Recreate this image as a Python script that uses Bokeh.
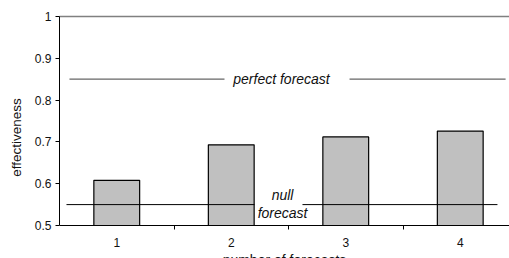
from bokeh.plotting import figure
from bokeh.models import Range1d, FixedTicker, LinearAxis, ColumnDataSource
from bokeh.core.properties import value
from bokeh.embed import file_html
from bokeh.resources import INLINE

# data
categories = [1, 2, 3, 4]
tick_labels = ["1", "2", "3", "4"]
effectiveness = [0.608, 0.693, 0.712, 0.726]
y_ticks = [0.5, 0.6, 0.7, 0.8, 0.9, 1.0]
y_tick_labels = ["0.5", "0.6", "0.7", "0.8", "0.9", "1"]
perfect_level = 0.85
null_level = 0.55
x_title = "number of forecasts"
y_title = "effectiveness"

FONT = "Liberation Sans"

# frame spans 16..258 px; value 0.5 sits at 225 px, 1.0 at 16 px
y_start = 1.0 - 0.5 * 242 / 209
px_per_unit = 209 / 0.5

p = figure(width=509, height=258, output_backend="svg", toolbar_location=None,
           x_range=Range1d(0.5, 0.5 + 450 / 114.5), y_range=Range1d(y_start, 1.0),
           min_border_left=59, min_border_right=0, min_border_top=16, min_border_bottom=0)
p.outline_line_color = None
p.xgrid.visible = False
p.ygrid.visible = False
p.background_fill_color = "white"
p.border_fill_color = "white"

src = ColumnDataSource(dict(x=categories, top=effectiveness))
p.vbar(x="x", top="top", bottom=0.5, width=0.4, source=src,
       fill_color="#c0c0c0", line_color="#000000", line_width=1.2)

# reference lines (annotation)
perfect_segs_x0 = [0.587, 3.033]
perfect_segs_x1 = [1.941, 4.396]
null_segs_x0 = [0.561, 2.622]
null_segs_x1 = [2.203, 4.325]
p.segment(x0=perfect_segs_x0, x1=perfect_segs_x1, y0=[perfect_level] * 2, y1=[perfect_level] * 2,
          line_color="#666666", line_width=1.3)
p.segment(x0=null_segs_x0, x1=null_segs_x1, y0=[null_level] * 2, y1=[null_level] * 2,
          line_color="#000000", line_width=1)

ann_x = [2.439, 2.448, 2.448]
ann_y = [0.85, 0.572, 0.531]
ann_text = ["perfect forecast", "null", "forecast"]
p.text(x=ann_x, y=ann_y, text=ann_text, text_font=value(FONT), text_font_size="14px",
       text_font_style="italic", text_align="center", text_baseline="middle", text_color="#111111")

# y axis (line limited to 0.5..1)
p.yaxis.bounds = (0.5, 1.0)
p.yaxis.ticker = FixedTicker(ticks=y_ticks)
p.yaxis.major_label_overrides = {t: l for t, l in zip(y_ticks, y_tick_labels)}
p.yaxis.major_tick_out = 4
p.yaxis.major_tick_in = 0
p.yaxis.minor_tick_line_color = None
p.yaxis.major_label_standoff = 4
p.yaxis.axis_label = y_title
p.yaxis.axis_label_standoff = 8
p.yaxis.axis_label_text_font = FONT
p.yaxis.axis_label_text_font_style = "normal"
p.yaxis.axis_label_text_font_size = "13.5px"
p.yaxis.axis_label_text_color = "#111111"
p.yaxis.major_label_text_font = FONT
p.yaxis.major_label_text_font_size = "12px"
p.yaxis.major_label_text_color = "#111111"
p.yaxis.axis_line_color = "#000000"
p.yaxis.major_tick_line_color = "#000000"

# x axis drawn at value 0.5 (tick marks between categories only)
p.xaxis.fixed_location = 0.5
p.xaxis.ticker = FixedTicker(ticks=[], minor_ticks=[1.5, 2.5, 3.5])
p.xaxis.major_tick_line_color = None
p.xaxis.major_tick_out = 0
p.xaxis.major_tick_in = 0
p.xaxis.minor_tick_out = 4
p.xaxis.minor_tick_in = 0
p.xaxis.minor_tick_line_color = "#000000"
p.xaxis.major_label_standoff = 0
p.xaxis.axis_line_color = "#000000"

# x tick labels and title, placed through the y scale below value 0.5
p.text(x=categories, y=[0.5 - 17 / px_per_unit] * len(categories), text=tick_labels,
       text_font=value(FONT), text_font_size="12px", text_align="center",
       text_baseline="middle", text_color="#111111")
p.text(x=[2.465], y=[0.5 - 26 / px_per_unit], text=[x_title],
       text_font=value(FONT), text_font_size="14px", text_align="center",
       text_baseline="top", text_color="#111111")

# top border line
top_axis = LinearAxis(major_tick_line_color=None, minor_tick_line_color=None,
                      axis_line_color="#808080", axis_line_width=1.3)
top_axis.ticker = FixedTicker(ticks=[])
p.add_layout(top_axis, "above")

open("out.html", "w").write(file_html(p, INLINE))
